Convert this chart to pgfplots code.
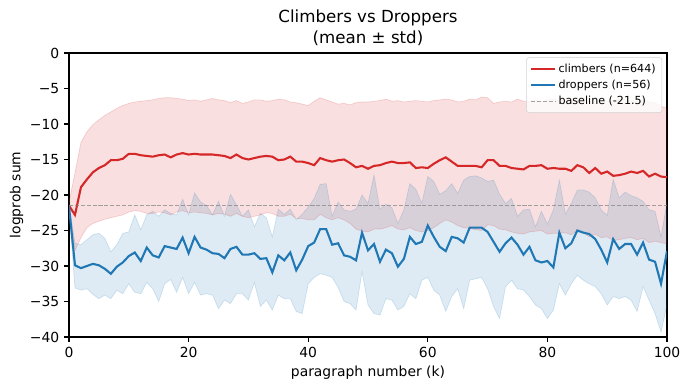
\documentclass[border=0pt]{standalone}
\usepackage{fontspec}
\setmainfont{DejaVu Sans}
\usepackage{pgfplots}
\pgfplotsset{compat=1.18}
\usepackage{pgfplotstable}
\usepgfplotslibrary{fillbetween}
\definecolor{tabred}{HTML}{D62728}
\definecolor{tabblue}{HTML}{1F77B4}
\pgfplotstableread{
k rm rhi rlo bm bhi blo
0 -21.5 -21.0 -22.0 -21.6 -21.2 -22.0
1 -22.8 -16.9 -27.8 -29.9 -26.8 -33.1
2 -18.9 -12.6 -26.0 -30.3 -27.0 -33.4
3 -17.8 -11.1 -24.6 -30.0 -26.3 -33.2
4 -16.8 -10.1 -24.0 -29.7 -25.6 -34.0
5 -16.2 -9.4 -23.7 -29.9 -25.4 -34.6
6 -15.8 -8.8 -23.4 -30.4 -26.1 -34.1
7 -15.1 -8.3 -23.2 -31.1 -28.0 -34.6
8 -15.1 -7.8 -23.0 -30.1 -27.0 -33.4
9 -14.9 -7.4 -22.8 -29.5 -25.4 -33.9
10 -14.2 -7.1 -22.4 -28.6 -25.2 -32.5
11 -14.2 -6.9 -22.2 -28.1 -22.8 -33.7
12 -14.4 -6.8 -22.3 -29.3 -24.9 -33.9
13 -14.5 -6.7 -22.6 -27.4 -22.8 -32.3
14 -14.6 -6.6 -22.6 -28.5 -22.3 -33.2
15 -14.4 -6.4 -22.4 -28.8 -23.0 -35.0
16 -14.3 -6.3 -22.5 -27.2 -22.1 -32.5
17 -14.7 -6.3 -22.8 -27.4 -22.6 -31.9
18 -14.3 -6.4 -22.4 -27.6 -22.8 -33.7
19 -14.1 -6.5 -22.2 -26.0 -20.6 -31.6
20 -14.3 -6.7 -22.5 -28.2 -22.8 -33.9
21 -14.2 -6.6 -22.4 -25.9 -19.7 -32.3
22 -14.3 -6.8 -22.5 -27.4 -21.0 -34.1
23 -14.3 -6.6 -22.6 -27.7 -21.5 -33.9
24 -14.3 -6.4 -22.8 -28.2 -22.8 -34.1
25 -14.4 -6.6 -22.6 -28.3 -20.9 -36.0
26 -14.5 -6.7 -22.7 -28.9 -23.0 -34.8
27 -14.8 -7.0 -23.0 -27.6 -19.9 -35.3
28 -14.3 -6.7 -22.6 -27.3 -21.4 -33.9
29 -14.8 -7.1 -23.0 -28.4 -23.0 -33.9
30 -15.0 -6.9 -23.2 -28.4 -22.1 -34.8
31 -14.8 -6.6 -23.0 -28.2 -24.5 -32.3
32 -14.6 -6.6 -22.8 -29.0 -22.6 -35.7
33 -14.5 -6.8 -22.5 -28.9 -23.2 -34.8
34 -14.6 -6.7 -22.6 -30.9 -25.9 -36.2
35 -15.1 -6.5 -23.0 -28.5 -22.0 -34.1
36 -15.0 -6.6 -23.0 -29.2 -22.7 -34.6
37 -14.6 -6.9 -22.7 -28.1 -22.0 -34.6
38 -15.3 -7.0 -23.3 -30.6 -23.5 -36.4
39 -15.3 -7.2 -23.3 -29.1 -22.7 -36.7
40 -15.5 -7.4 -23.5 -27.2 -21.7 -32.5
41 -15.8 -6.8 -23.5 -26.7 -20.5 -31.6
42 -14.8 -6.3 -22.7 -24.8 -18.5 -31.1
43 -15.1 -6.6 -23.2 -24.8 -18.4 -31.3
44 -15.3 -6.9 -23.5 -27.0 -23.0 -31.6
45 -15.1 -7.2 -23.2 -26.8 -21.0 -33.0
46 -15.0 -7.1 -23.5 -28.5 -22.1 -35.0
47 -15.5 -7.3 -24.0 -28.7 -22.3 -35.3
48 -16.1 -7.0 -24.8 -29.2 -22.0 -36.2
49 -15.9 -6.9 -25.1 -25.3 -20.0 -30.8
50 -16.3 -6.9 -25.2 -27.8 -21.2 -35.5
51 -15.9 -6.8 -24.8 -26.9 -17.2 -36.7
52 -15.8 -6.7 -24.8 -29.4 -22.0 -36.9
53 -15.5 -6.5 -24.6 -27.7 -21.3 -34.6
54 -15.3 -6.8 -24.3 -28.2 -21.8 -34.8
55 -15.5 -6.7 -24.8 -30.1 -24.0 -36.2
56 -15.5 -6.9 -24.9 -29.0 -22.1 -35.7
57 -15.4 -6.8 -24.6 -25.9 -18.4 -33.9
58 -16.2 -6.7 -25.0 -26.9 -19.2 -34.6
59 -16.1 -6.8 -25.2 -26.6 -21.2 -32.0
60 -16.2 -6.9 -25.0 -24.3 -17.4 -31.6
61 -15.6 -6.7 -24.6 -25.9 -18.1 -33.4
62 -15.1 -6.6 -24.0 -27.3 -19.9 -34.1
63 -14.7 -6.5 -23.5 -27.9 -19.4 -36.4
64 -15.3 -6.6 -23.8 -25.9 -18.4 -34.3
65 -15.9 -6.9 -24.3 -26.1 -19.8 -33.2
66 -15.9 -6.8 -24.6 -26.7 -17.9 -36.0
67 -15.9 -6.5 -24.7 -24.6 -17.4 -32.0
68 -15.9 -6.6 -24.9 -24.6 -17.3 -31.8
69 -16.1 -6.2 -25.0 -24.6 -17.6 -31.6
70 -15.1 -6.3 -24.2 -25.2 -18.1 -33.2
71 -15.1 -7.1 -24.3 -26.6 -17.9 -35.7
72 -15.9 -6.9 -24.8 -28.0 -19.9 -37.4
73 -15.9 -6.8 -24.9 -26.8 -21.2 -32.9
74 -16.2 -6.9 -25.2 -26.0 -20.5 -32.0
75 -16.3 -6.5 -25.4 -27.0 -23.0 -33.2
76 -16.4 -6.8 -25.5 -28.4 -22.1 -33.4
77 -15.9 -6.8 -25.2 -27.3 -22.0 -34.3
78 -15.9 -6.6 -25.1 -29.2 -24.5 -35.5
79 -15.8 -6.9 -25.0 -29.5 -22.3 -36.0
80 -16.3 -6.6 -25.5 -29.3 -24.1 -37.4
81 -16.2 -6.5 -25.4 -30.2 -22.1 -36.2
82 -16.3 -6.7 -25.4 -25.3 -17.9 -32.5
83 -16.3 -6.6 -25.3 -27.5 -22.7 -34.1
84 -16.6 -6.5 -25.6 -26.8 -21.2 -32.5
85 -15.8 -6.2 -25.0 -25.0 -19.3 -31.3
86 -16.1 -6.4 -25.3 -25.3 -19.3 -32.0
87 -16.9 -6.8 -25.9 -25.5 -19.6 -32.5
88 -16.2 -6.6 -25.5 -26.2 -20.4 -32.9
89 -17.0 -6.9 -26.0 -27.7 -22.1 -33.9
90 -16.7 -6.8 -25.9 -29.5 -22.9 -35.5
91 -17.3 -6.9 -26.4 -26.2 -17.8 -34.3
92 -17.2 -6.5 -26.3 -27.6 -20.4 -34.6
93 -17.0 -6.6 -26.1 -26.9 -19.6 -34.3
94 -16.7 -6.7 -26.0 -26.9 -20.1 -34.8
95 -16.9 -6.8 -26.3 -28.4 -20.4 -36.4
96 -16.6 -6.5 -26.1 -26.7 -20.9 -32.9
97 -17.4 -6.9 -26.7 -29.1 -22.1 -34.8
98 -17.0 -7.0 -26.5 -29.4 -22.3 -36.7
99 -17.4 -7.5 -26.7 -32.5 -25.9 -39.3
100 -17.5 -7.8 -26.9 -27.9 -21.0 -35.5
}\datatable
\begin{document}
\begin{tikzpicture}
\begin{axis}[
  scale only axis,
  width=430.56pt, height=204.48pt,
  xmin=0, xmax=100, ymin=-40, ymax=0,
  xtick={0,20,40,60,80,100},
  ytick={-40,-35,-30,-25,-20,-15,-10,-5,0},
  yticklabels={−40,−35,−30,−25,−20,−15,−10,−5,0},
  /pgf/number format/assume math mode=true,
  tick label style={font=\fontsize{10}{12}\selectfont},
  tick align=outside,
  major tick length=3.5pt,
  xtick pos=left, ytick pos=left,
  tick style={black, line width=0.8pt},
  axis line style={line width=0.8pt},
  title={Climbers vs Droppers\\(mean ± std)},
  title style={align=center, font=\fontsize{12}{15.2}\selectfont, yshift=-4.5pt},
  xlabel={paragraph number (k)},
  ylabel={logprob sum},
  label style={font=\fontsize{10}{12}\selectfont},
  xlabel style={yshift=0.5pt},
  ylabel style={yshift=-2pt},
  legend style={at={(0.992,0.985)}, anchor=north east, font=\fontsize{8}{9.5}\selectfont,
    draw=black!18, rounded corners=2pt, fill=white, fill opacity=0.8, text opacity=1,
    inner sep=2.5pt, row sep=0pt},
  legend cell align=left,
]
\addplot[draw=tabred, draw opacity=0.18, line width=0.5pt, name path=rhi, forget plot] table[x=k, y=rhi] {\datatable};
\addplot[draw=tabred, draw opacity=0.18, line width=0.5pt, name path=rlo, forget plot] table[x=k, y=rlo] {\datatable};
\addplot[fill=tabred, fill opacity=0.15, draw=none, forget plot] fill between[of=rhi and rlo];
\addplot[tabred, line width=1.5pt] table[x=k, y=rm] {\datatable};
\addlegendentry{climbers (n=644)}
\addplot[draw=tabblue, draw opacity=0.18, line width=0.5pt, name path=bhi, forget plot] table[x=k, y=bhi] {\datatable};
\addplot[draw=tabblue, draw opacity=0.18, line width=0.5pt, name path=blo, forget plot] table[x=k, y=blo] {\datatable};
\addplot[fill=tabblue, fill opacity=0.15, draw=none, forget plot] fill between[of=bhi and blo];
\addplot[tabblue, line width=1.5pt] table[x=k, y=bm] {\datatable};
\addlegendentry{droppers (n=56)}
\addplot[gray, opacity=0.7, line width=0.8pt, dash pattern=on 2.96pt off 1.28pt] coordinates {(0,-21.5) (100,-21.5)};
\addlegendentry{baseline (-21.5)}
\end{axis}
\pgfresetboundingbox
\useasboundingbox (-49.68pt,-38.16pt) rectangle (447.12pt,242.64pt);
\end{tikzpicture}
\end{document}
